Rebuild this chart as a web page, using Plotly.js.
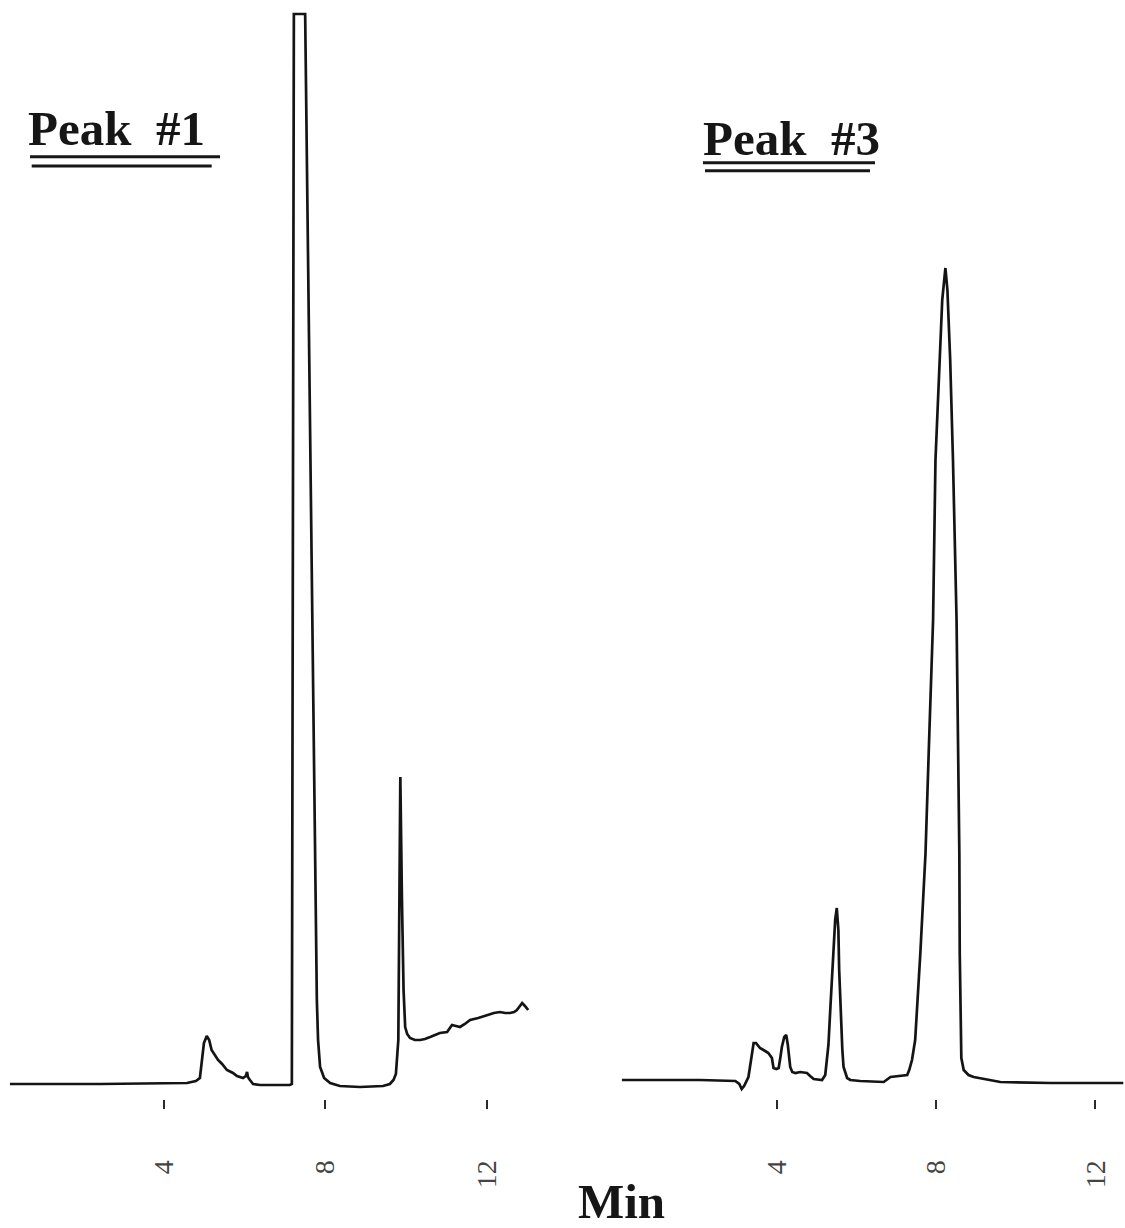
<!DOCTYPE html>
<html>
<head>
<meta charset="utf-8">
<script src="https://cdn.plot.ly/plotly-3.0.1.min.js"></script>
<style>
  html, body { margin: 0; padding: 0; background: #ffffff; }
  #chart { width: 1125px; height: 1228px; }
</style>
</head>
<body>
<div id="chart"></div>
<script>
// ---- Data (retention time in min, detector response in arbitrary units) ----
const peak1Time = [0.18, 2.41, 4.57, 4.79, 4.89, 4.94, 4.99, 5.06, 5.12, 5.18, 5.26, 5.34, 5.44, 5.56, 5.71, 5.81,
  5.96, 6.03, 6.06, 6.08, 6.13, 6.21, 6.38, 7.12, 7.17, 7.19, 7.20, 7.22, 7.50, 7.64, 7.74, 7.79, 7.82, 7.87, 7.97,
  8.12, 8.36, 8.86, 9.43, 9.60, 9.69, 9.75, 9.81, 9.84, 9.86, 9.90, 9.94, 9.98, 10.03, 10.10, 10.22, 10.35, 10.47,
  10.60, 10.72, 10.84, 11.02, 11.14, 11.24, 11.34, 11.46, 11.59, 11.79, 12.01, 12.18, 12.33, 12.46, 12.58, 12.68,
  12.75, 12.83, 12.88, 12.95, 13.03];
const peak1Signal = [0.1, 0.1, 0.2, 0.4, 0.7, 2.5, 4.2, 4.9, 4.5, 3.5, 3.0, 2.5, 2.1, 1.5, 1.2, 0.9,
  0.7, 0.9, 1.3, 0.8, 0.5, 0.1, 0.0, 0.0, 0.1, 48.5, 98.5, 107.1, 107.1, 58.5, 23.5, 8.5, 4.5, 1.8, 0.7,
  0.2, -0.1, -0.2, -0.1, 0.1, 0.5, 1.1, 4.5, 18.5, 30.8, 18.5, 9.5, 5.8, 5.1, 4.7, 4.5, 4.5, 4.6,
  4.8, 5.0, 5.2, 5.3, 6.0, 5.9, 5.8, 6.1, 6.5, 6.7, 7.0, 7.2, 7.3, 7.2, 7.2, 7.3,
  7.5, 7.9, 8.2, 7.9, 7.5];

const peak3Time = [0.10, 2.07, 2.95, 3.05, 3.11, 3.17, 3.28, 3.35, 3.41, 3.47, 3.57, 3.70, 3.78, 3.87, 3.91, 3.98,
  4.04, 4.08, 4.12, 4.18, 4.23, 4.27, 4.33, 4.38, 4.46, 4.58, 4.75, 4.83, 4.92, 5.13, 5.21, 5.25, 5.29, 5.34, 5.41,
  5.46, 5.50, 5.54, 5.56, 5.59, 5.64, 5.67, 5.76, 5.84, 6.09, 6.68, 6.77, 6.85, 7.27, 7.32, 7.39, 7.47, 7.60, 7.73,
  7.81, 7.92, 7.98, 8.09, 8.15, 8.23, 8.28, 8.35, 8.42, 8.51, 8.56, 8.58, 8.59, 8.61, 8.63, 8.69, 8.81, 8.94, 9.24,
  9.61, 10.87, 12.70];
const peak3Signal = [0.5, 0.5, 0.4, 0.1, -0.4, -0.1, 0.8, 2.5, 4.2, 4.2, 3.7, 3.4, 3.2, 2.7, 1.7, 1.6,
  1.7, 2.7, 3.8, 4.8, 5.0, 4.0, 1.8, 1.3, 1.2, 1.3, 1.2, 0.9, 0.6, 0.5, 1.0, 2.5, 4.0, 7.8, 12.5,
  16.5, 17.7, 15.5, 11.5, 7.8, 3.5, 1.8, 0.7, 0.5, 0.4, 0.3, 0.6, 0.8, 1.0, 1.5, 2.5, 4.5, 13.2, 23.2,
  33.2, 46.5, 62.5, 72.5, 78.5, 81.7, 79.5, 72.5, 62.5, 46.5, 33.2, 23.2, 13.2, 4.5, 2.7, 1.5, 1.0, 0.8, 0.6,
  0.3, 0.2, 0.2];

const tickValues = [4, 8, 12];
const tickLabels = ['4', '8', '12'];
const panelTitles = ['Peak&nbsp; #1', 'Peak&nbsp; #3'];
const xAxisTitle = 'Min';

// ---- Figure ----
const W = 1125, H = 1228, plotH = 1099;
const px = v => v / W;
const py = v => 1 - v / plotH;

const lineStyle = { color: '#141414', width: 2.7 };

const traces = [
  { x: peak1Time, y: peak1Signal, xaxis: 'x', yaxis: 'y', mode: 'lines', line: lineStyle,
    name: 'Peak #1', hoverinfo: 'x+y' },
  { x: peak3Time, y: peak3Signal, xaxis: 'x2', yaxis: 'y', mode: 'lines', line: lineStyle,
    name: 'Peak #3', hoverinfo: 'x+y' }
];

const serif = 'Liberation Serif, Times New Roman, serif';

const axisCommon = {
  tickmode: 'array', tickvals: tickValues, ticktext: tickLabels,
  ticks: 'outside', ticklen: 9, tickwidth: 2, tickcolor: '#2a2a2a',
  tickangle: -90, ticklabelstandoff: 40,
  tickfont: { family: serif, size: 28, color: '#444' },
  showgrid: false, zeroline: false, showline: false, fixedrange: true
};

const layout = {
  width: W, height: H,
  margin: { l: 0, r: 0, t: 0, b: H - plotH, pad: 0 },
  paper_bgcolor: '#ffffff', plot_bgcolor: '#ffffff',
  showlegend: false,
  xaxis: Object.assign({}, axisCommon, { domain: [0, px(560)], range: [-0.0665, 13.819], anchor: 'y' }),
  xaxis2: Object.assign({}, axisCommon, { domain: [px(580), 1], range: [-0.953, 12.743], anchor: 'y' }),
  yaxis: { range: [-1.4, 108.5], visible: false, fixedrange: true },
  annotations: [
    { text: '<b>' + panelTitles[0] + '</b>', xref: 'paper', yref: 'paper', x: px(26), y: py(129),
      xanchor: 'left', yanchor: 'middle', showarrow: false,
      font: { family: serif, size: 49, color: '#161616' } },
    { text: '<b>' + panelTitles[1] + '</b>', xref: 'paper', yref: 'paper', x: px(701), y: py(138),
      xanchor: 'left', yanchor: 'middle', showarrow: false,
      font: { family: serif, size: 49, color: '#161616' } },
    { text: '<b>' + xAxisTitle + '</b>', xref: 'paper', yref: 'paper', x: px(621), y: py(1201),
      xanchor: 'center', yanchor: 'middle', showarrow: false,
      font: { family: serif, size: 49, color: '#161616' } }
  ],
  shapes: [
    { type: 'line', xref: 'paper', yref: 'paper', x0: px(30), x1: px(220), y0: py(156.7), y1: py(156.7),
      line: { color: '#161616', width: 3 } },
    { type: 'line', xref: 'paper', yref: 'paper', x0: px(31.7), x1: px(211.7), y0: py(166), y1: py(166),
      line: { color: '#161616', width: 3 } },
    { type: 'line', xref: 'paper', yref: 'paper', x0: px(703), x1: px(875), y0: py(162.7), y1: py(162.7),
      line: { color: '#161616', width: 3 } },
    { type: 'line', xref: 'paper', yref: 'paper', x0: px(705), x1: px(870), y0: py(170.7), y1: py(170.7),
      line: { color: '#161616', width: 3 } }
  ]
};

Plotly.newPlot('chart', traces, layout, { staticPlot: true, displayModeBar: false });
</script>
</body>
</html>
